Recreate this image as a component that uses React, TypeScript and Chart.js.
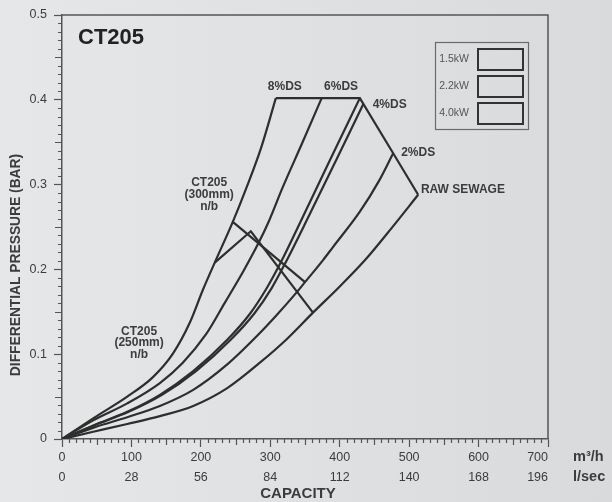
import React, { useEffect, useRef } from "react";
import { Chart, registerables } from "chart.js";

Chart.register(...registerables);

// ---- axis tick labels ----
const capacityM3h = [0, 100, 200, 300, 400, 500, 600, 700];
const capacityLsec = ["0", "28", "56", "84", "112", "140", "168", "196"];
const pressureTicks = [0, 0.1, 0.2, 0.3, 0.4, 0.5];

// ---- curves (capacity m3/h, differential pressure bar) ----
const ds8X = [0, 46, 94, 131, 160, 184, 203, 220, 246, 266, 287, 308];
const ds8Y = [0, 0.025, 0.05, 0.073, 0.101, 0.137, 0.176, 0.208, 0.256, 0.297, 0.344, 0.402];

const ds6X = [0, 45, 94, 141, 174, 207, 234, 262, 283, 297, 318, 346, 374];
const ds6Y = [0, 0.022, 0.042, 0.066, 0.09, 0.123, 0.16, 0.199, 0.231, 0.255, 0.297, 0.349, 0.402];

const ds4aX = [0, 45, 94, 141, 189, 238, 271, 295, 315, 347, 386, 429];
const ds4aY = [0, 0.016, 0.032, 0.052, 0.08, 0.117, 0.148, 0.178, 0.208, 0.262, 0.329, 0.402];

const ds4bX = [0, 46, 96, 144, 193, 243, 277, 302, 322, 355, 395, 434];
const ds4bY = [0, 0.016, 0.032, 0.052, 0.08, 0.117, 0.148, 0.178, 0.208, 0.262, 0.329, 0.395];

const ds2X = [0, 47.5, 95, 141, 189, 238, 285, 308, 337, 350, 376, 390, 429, 457, 477];
const ds2Y = [0, 0.014, 0.026, 0.039, 0.058, 0.088, 0.125, 0.145, 0.172, 0.185, 0.211, 0.226, 0.268, 0.305, 0.337];

const rawX = [0, 45, 94, 141, 189, 238, 285, 324, 361.5, 399, 436.5, 475, 513];
const rawY = [0, 0.0085, 0.0177, 0.027, 0.039, 0.06, 0.09, 0.118, 0.149, 0.179, 0.211, 0.249, 0.288];

// upper limit envelope
const limitX = [308, 429, 477, 513];
const limitY = [0.402, 0.402, 0.337, 0.288];

// CT205 (300mm) n/b limit lines
const nb300aX = [246, 350];
const nb300aY = [0.256, 0.185];
const nb300bX = [220, 272, 361.5];
const nb300bY = [0.208, 0.245, 0.149];

// ---- text annotations ----
const curveLabels = [
  { text: "8%DS", x: 321, y: 0.415, align: "center" },
  { text: "6%DS", x: 402, y: 0.415, align: "center" },
  { text: "4%DS", x: 472, y: 0.394, align: "center" },
  { text: "2%DS", x: 513, y: 0.338, align: "center" },
  { text: "RAW SEWAGE", x: 517, y: 0.294, align: "left" },
  { text: "CT205", x: 212, y: 0.302, align: "center" },
  { text: "(300mm)", x: 212, y: 0.288, align: "center" },
  { text: "n/b", x: 212, y: 0.274, align: "center" },
  { text: "CT205", x: 111, y: 0.127, align: "center" },
  { text: "(250mm)", x: 111, y: 0.113, align: "center" },
  { text: "n/b", x: 111, y: 0.099, align: "center" },
];
const powerLabels = ["1.5kW", "2.2kW", "4.0kW"];
const chartTitle = "CT205";
const yTitle = "DIFFERENTIAL PRESSURE (BAR)";
const xTitle = "CAPACITY";
const unitTop = "m³/h";
const unitBottom = "l/sec";

const FONT = "'Liberation Sans', Arial, Helvetica, sans-serif";
const INK = "#2e2e2e";
const AXIS = "#555555";
const TXT = "#3c3c3c";
const FIG_SPACE = "\u2007";

const pts = (xs: number[], ys: number[]) => xs.map((x, i) => ({ x, y: ys[i] }));

const curve = (label: string, xs: number[], ys: number[], smooth: boolean) => ({
  label,
  data: pts(xs, ys),
  showLine: true,
  borderColor: INK,
  borderWidth: 2.2,
  pointRadius: 0,
  fill: false,
  cubicInterpolationMode: smooth ? "monotone" : "default",
  tension: 0,
});

const decor = {
  id: "decor",
  beforeDraw(chart: any) {
    const { ctx, width, height } = chart;
    const g = ctx.createLinearGradient(0, 0, width, 0);
    g.addColorStop(0, "#e6e7e8");
    g.addColorStop(1, "#d9dadc");
    ctx.save();
    ctx.fillStyle = g;
    ctx.fillRect(0, 0, width, height);
    ctx.restore();
  },
  afterDraw(chart: any) {
    const { ctx, chartArea: a } = chart;
    const x = chart.scales.x;
    const y = chart.scales.y;
    ctx.save();
    // top and right frame
    ctx.strokeStyle = AXIS;
    ctx.lineWidth = 1.5;
    ctx.beginPath();
    ctx.moveTo(a.left, a.top);
    ctx.lineTo(a.right, a.top);
    ctx.lineTo(a.right, a.bottom);
    ctx.stroke();

    // minor ticks
    ctx.lineWidth = 1.2;
    ctx.beginPath();
    for (let v = 10; v < 700; v += 10) {
      if (v % 100 === 0) continue;
      const px = Math.round(x.getPixelForValue(v)) + 0.5;
      const len = v % 50 === 0 ? 6 : 4;
      ctx.moveTo(px, a.bottom);
      ctx.lineTo(px, a.bottom + len);
    }
    for (let i = 1; i < 50; i++) {
      if (i % 10 === 0) continue;
      const py = Math.round(y.getPixelForValue(i / 100)) + 0.5;
      const len = i % 5 === 0 ? 7 : 4;
      ctx.moveTo(a.left, py);
      ctx.lineTo(a.left - len, py);
    }
    ctx.stroke();

    // curve labels
    ctx.fillStyle = TXT;
    ctx.textBaseline = "middle";
    ctx.font = `bold 12px ${FONT}`;
    for (const l of curveLabels) {
      ctx.textAlign = l.align as CanvasTextAlign;
      ctx.fillText(l.text, x.getPixelForValue(l.x), y.getPixelForValue(l.y));
    }

    // chart title
    ctx.fillStyle = "#222";
    ctx.textAlign = "left";
    ctx.font = `bold 22px ${FONT}`;
    ctx.fillText(chartTitle, a.left + 16, a.top + 23);

    // legend box
    const bx = a.right - 113;
    const by = a.top + 27;
    ctx.strokeStyle = "#6a6a6a";
    ctx.lineWidth = 1.2;
    ctx.strokeRect(bx + 0.5, by + 0.5, 93, 87);
    ctx.font = `10.5px ${FONT}`;
    ctx.textAlign = "right";
    ctx.fillStyle = "#555";
    powerLabels.forEach((t, i) => {
      const ry = by + 6 + i * 27;
      ctx.strokeStyle = "#333";
      ctx.lineWidth = 2;
      ctx.strokeRect(bx + 43, ry + 1, 45, 21);
      ctx.fillText(t, bx + 34, ry + 11);
    });

    // axis titles
    ctx.fillStyle = TXT;
    ctx.font = `bold 13.8px ${FONT}`;
    ctx.textAlign = "center";
    ctx.save();
    ctx.translate(16, 265);
    ctx.rotate(-Math.PI / 2);
    ctx.fillText(yTitle, 0, 0);
    ctx.restore();
    ctx.font = `bold 15px ${FONT}`;
    ctx.fillText(xTitle, 298, 494);

    // units
    ctx.textAlign = "left";
    ctx.font = `bold 14.5px ${FONT}`;
    ctx.fillText(unitTop, a.right + 25, a.bottom + 18);
    ctx.fillText(unitBottom, a.right + 25, a.bottom + 38);
    ctx.restore();
  },
};

export default function App() {
  const ref = useRef<HTMLCanvasElement | null>(null);
  useEffect(() => {
    if (!ref.current) return;
    const chart = new Chart(ref.current, {
      type: "scatter",
      data: {
        datasets: [
          curve("8%DS", ds8X, ds8Y, true),
          curve("6%DS", ds6X, ds6Y, true),
          curve("4%DS", ds4aX, ds4aY, true),
          curve("4%DS b", ds4bX, ds4bY, true),
          curve("2%DS", ds2X, ds2Y, true),
          curve("RAW SEWAGE", rawX, rawY, true),
          curve("limit", limitX, limitY, false),
          curve("CT205 300mm a", nb300aX, nb300aY, false),
          curve("CT205 300mm b", nb300bX, nb300bY, false),
        ] as any,
      },
      options: {
        animation: false,
        responsive: false,
        maintainAspectRatio: false,
        layout: { padding: { left: 0, right: 64, top: 15, bottom: 0 } },
        plugins: { legend: { display: false }, tooltip: { enabled: false } },
        scales: {
          x: {
            type: "linear",
            min: 0,
            max: 700,
            afterFit: (s: any) => {
              s.height = 63;
            },
            afterBuildTicks: (axis: any) => {
              axis.ticks = capacityM3h.map((v) => ({ value: v }));
            },
            ticks: {
              autoSkip: false,
              maxRotation: 0,
              padding: 0,
              color: TXT,
              font: { family: FONT, size: 12.5, lineHeight: 1.62 },
              callback: (v: any) => {
                const i = capacityM3h.indexOf(Number(v));
                const last = i === capacityM3h.length - 1;
                const pad = last ? FIG_SPACE.repeat(3) : "";
                return [String(v) + pad, capacityLsec[i] + pad];
              },
            },
            grid: { drawOnChartArea: false, drawTicks: true, tickLength: 8, tickColor: AXIS, tickWidth: 1.2 },
            border: { display: true, color: AXIS, width: 1.5 },
          },
          y: {
            type: "linear",
            min: 0,
            max: 0.5,
            afterFit: (s: any) => {
              s.width = 62;
            },
            afterBuildTicks: (axis: any) => {
              axis.ticks = pressureTicks.map((v) => ({ value: v }));
            },
            ticks: {
              padding: 7,
              color: TXT,
              font: { family: FONT, size: 12.5 },
              callback: (v: any) => (Number(v) === 0 ? "0" : Number(v).toFixed(1)),
            },
            grid: { drawOnChartArea: false, drawTicks: true, tickLength: 8, tickColor: AXIS, tickWidth: 1.2 },
            border: { display: true, color: AXIS, width: 1.5 },
          },
        },
      },
      plugins: [decor],
    });
    return () => chart.destroy();
  }, []);
  return (
    <div style={{ position: "fixed", left: 0, top: 0, width: 612, height: 502 }}>
      <canvas ref={ref} width={612} height={502} style={{ display: "block" }} />
    </div>
  );
}
